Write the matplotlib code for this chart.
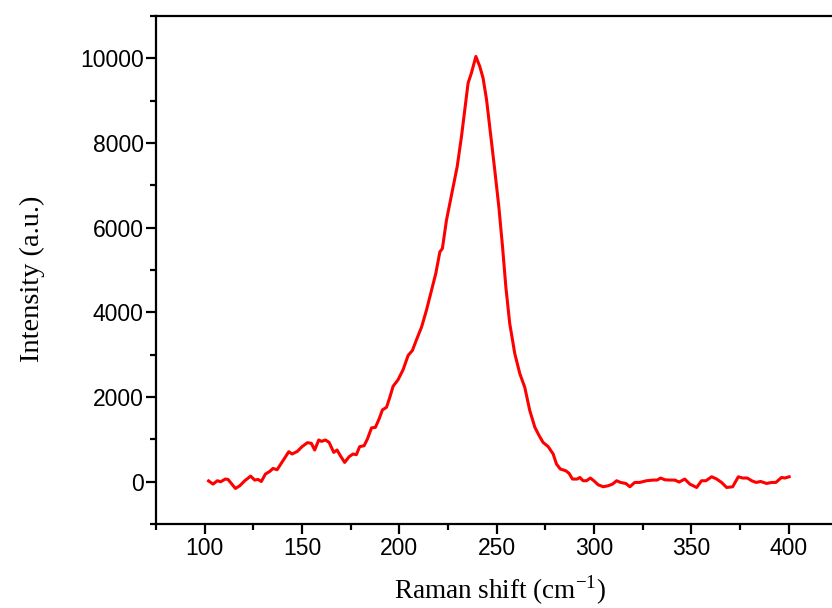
import numpy as np
import matplotlib
matplotlib.use("Agg")
import matplotlib.pyplot as plt
from matplotlib.ticker import MultipleLocator

# Raman spectrum, shift in cm^-1 and intensity in a.u.
shift = [102.0, 104.3, 106.5, 108.2, 110.6, 112.0, 113.7, 115.8, 118.0, 120.6,
         123.6, 125.7, 127.4, 129.1, 131.2, 133.4, 135.1, 137.2, 140.2, 143.2,
         144.9, 147.6, 150.0, 152.8, 154.8, 156.5, 158.6, 160.0, 162.0, 163.9,
         166.3, 168.0, 169.7, 171.9, 174.2, 176.2, 177.9, 179.6, 181.9, 183.6,
         185.7, 187.7, 189.6, 191.3, 193.4, 195.1, 196.8, 199.3, 201.9, 204.5,
         206.7, 208.8, 211.4, 213.9, 216.5, 218.7, 220.8, 222.1, 224.2, 227.3,
         229.7, 231.9, 233.6, 235.3, 237.0, 239.3, 241.3, 243.0, 244.8, 246.8,
         249.0, 251.1, 253.0, 254.7, 256.7, 259.3, 261.9, 264.4, 267.0, 269.6,
         271.8, 273.8, 276.4, 279.0, 280.7, 282.7, 285.5, 287.2, 288.9, 291.3,
         292.7, 294.4, 296.1, 298.1, 299.9, 302.1, 304.7, 307.2, 309.5, 311.6,
         313.6, 316.3, 318.4, 320.9, 323.5, 326.9, 330.4, 332.4, 334.2, 336.4,
         339.0, 341.5, 343.7, 346.6, 349.2, 352.7, 355.2, 357.5, 360.4, 363.0,
         365.5, 368.1, 371.2, 374.1, 376.3, 378.7, 381.0, 383.2, 385.6, 388.6,
         391.2, 393.4, 396.3, 398.0, 400.2]
intensity = [20, -55, 24, 0, 64, 55, -40, -158, -95, 24,
             134, 40, 55, 7, 182, 244, 315, 284, 497, 710,
             656, 718, 829, 924, 907, 750, 987, 954, 987, 931,
             694, 750, 616, 457, 592, 656, 639, 829, 852, 1011,
             1272, 1286, 1485, 1698, 1759, 1996, 2257, 2408, 2645, 2984,
             3102, 3355, 3654, 4049, 4523, 4918, 5430, 5510, 6180, 6891,
             7443, 8153, 8785, 9418, 9654, 10047, 9811, 9536, 9022, 8233,
             7364, 6496, 5549, 4601, 3734, 3024, 2550, 2233, 1681, 1286,
             1089, 931, 832, 656, 419, 300, 260, 197, 64, 64,
             102, 24, 24, 88, 24, -71, -118, -95, -55, 24,
             -16, -40, -118, -16, -16, 24, 40, 40, 88, 47,
             40, 40, -7, 64, -55, -135, 24, 24, 118, 64,
             -16, -135, -118, 118, 88, 88, 24, -16, 7, -40,
             -16, -16, 102, 88, 118]

plt.rcParams['mathtext.fontset'] = 'custom'
plt.rcParams['mathtext.rm'] = 'Liberation Serif'

fig = plt.figure(figsize=(8.32, 6.08), dpi=100)
ax = fig.add_axes([0.1875, 0.138, 0.819, 0.8355])

ax.plot(shift, intensity, color="#ff0000", lw=2.2)

ax.set_xlim(75, 425)
ax.set_ylim(-1000, 11000)
ax.xaxis.set_major_locator(MultipleLocator(50))
ax.xaxis.set_minor_locator(MultipleLocator(25))
ax.yaxis.set_major_locator(MultipleLocator(2000))
ax.yaxis.set_minor_locator(MultipleLocator(1000))

for s in ax.spines.values():
    s.set_linewidth(1.6)
ax.tick_params(which="both", direction="out", top=False, right=False, width=1.6)
ax.tick_params(which="major", length=7, pad=2)
ax.tick_params(which="minor", length=4)
for lab in ax.get_xticklabels() + ax.get_yticklabels():
    lab.set_family("Liberation Sans")
    lab.set_fontsize(16.5)

ax.set_xlabel(r"Raman shift (cm$^{\mathregular{-1}}$)", family="Liberation Serif", fontsize=19.5)
ax.set_ylabel("Intensity (a.u.)", family="Liberation Serif", fontsize=20.5)
ax.xaxis.set_label_coords(0.505, -0.097)
ax.yaxis.set_label_coords(-0.163, 0.482)

fig.savefig("out.png", dpi=100)
